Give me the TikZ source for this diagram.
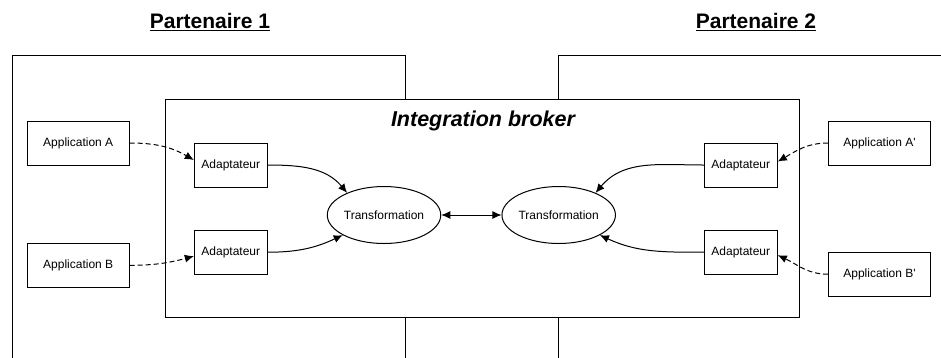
\documentclass[tikz,border=0pt]{standalone}
\usepackage{fontspec}
\setmainfont{Liberation Sans}
\usetikzlibrary{arrows.meta,calc,shapes.geometric}
\begin{document}
\begin{tikzpicture}[x=1pt,y=1pt,
  line width=1pt,
  box/.style={draw, rectangle, inner sep=0pt, font=\fontsize{12}{14}\selectfont},
  appbox/.style={box, minimum width=102pt, minimum height=44pt},
  adbox/.style={box, minimum width=73pt, minimum height=44pt},
  trans/.style={draw, ellipse, inner sep=0pt, minimum width=106pt, minimum height=57pt, font=\fontsize{12}{14}\selectfont},
  tip/.style={-{Latex[length=9pt,width=8pt]}},
  dtip/.style={{Latex[length=9pt,width=8pt]}-{Latex[length=9pt,width=8pt]}},
  dashedarrow/.style={tip, dash pattern=on 5pt off 3pt},
  title/.style={font=\fontsize{21}{24}\selectfont\bfseries}
]
\useasboundingbox (0,0) rectangle (941,-357);

% partner frames
\draw (405.7,-99) -- (405.7,-55) -- (12.7,-55) -- (12.7,-358);
\draw (405.7,-317.3) -- (405.7,-358);
\draw (558.3,-99) -- (558.3,-55) -- (942,-55);
\draw (558.3,-317.3) -- (558.3,-358);

% broker
\node[draw, rectangle, inner sep=0pt, minimum width=633.6pt, minimum height=218.3pt] (broker) at (482.5,-208.2) {};
\node[font=\fontsize{21.5}{24}\selectfont\bfseries\itshape] (brokertitle) at (483,-121) {Integration broker};

% titles
\node[title] (p1) at (210,-22) {\underline{Partenaire 1}};
\node[title] (p2) at (756,-22) {\underline{Partenaire 2}};

% applications
\node[appbox] (appA) at (78.2,-143) {Application A};
\node[appbox] (appB) at (78.2,-265.3) {Application B};
\node[appbox] (appAp) at (879.5,-143) {Application A\textquotesingle};
\node[appbox] (appBp) at (879.5,-274.2) {Application B\textquotesingle};

% adaptateurs
\node[adbox] (adA) at (230.8,-165) {Adaptateur};
\node[adbox] (adB) at (230.8,-252.2) {Adaptateur};
\node[adbox] (adAp) at (740.8,-165) {Adaptateur};
\node[adbox] (adBp) at (740.8,-252.2) {Adaptateur};

% transformations
\node[trans] (trL) at (384,-215) {Transformation};
\node[trans] (trR) at (558.7,-215) {Transformation};

% dashed arrows
\draw[dashedarrow] (appA.east) to[out=0,in=150] ($(adA.west)+(0,5)$);
\draw[dashedarrow] (appB.east) to[out=0,in=195] ($(adB.west)+(0,-4)$);
\draw[dashedarrow] (appAp.west) to[out=180,in=30] ($(adAp.east)+(0,3.5)$);
\draw[dashedarrow] (appBp.west) to[out=180,in=-25] ($(adBp.east)+(0,-3)$);

% solid arrows
\draw[tip] (adA.east) to[out=0,in=130] (trL.149);
\draw[tip] (adB.east) to[out=0,in=205] (trL.206);
\draw[tip] (adAp.west) to[out=180,in=50] (trR.31);
\draw[tip] (adBp.west) to[out=180,in=-25] (trR.334);
\draw[dtip] (trL) -- (trR);
\end{tikzpicture}
\end{document}
